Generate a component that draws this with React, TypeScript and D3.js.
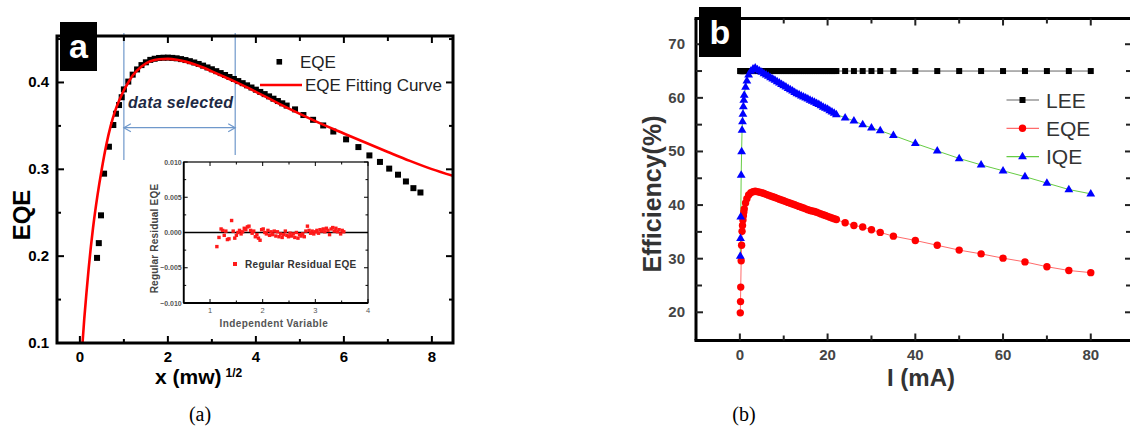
import React from "react";
import * as d3 from "d3";

const FONT = "Arial, 'Liberation Sans', Helvetica, sans-serif";

// ---- panel (a): EQE against square root of power ----
const eqeSqrtP = [
  0.39, 0.43, 0.48, 0.55, 0.66, 0.76, 0.82, 0.89, 0.95,
  1.0, 1.1, 1.2, 1.3, 1.4, 1.5, 1.6, 1.7, 1.8, 1.9, 2.0, 2.1, 2.2, 2.3, 2.4,
  2.5, 2.6, 2.7, 2.8, 2.9, 3.0, 3.1, 3.2, 3.3, 3.4, 3.5, 3.6, 3.7, 3.8, 3.9,
  4.0, 4.1, 4.2, 4.3, 4.4, 4.5, 4.6, 4.7,
  4.89, 5.08, 5.3, 5.53, 5.76, 6.05, 6.33, 6.58, 6.82, 7.03, 7.23, 7.41, 7.58, 7.74,
];
const eqeValue = [
  0.198, 0.215, 0.247, 0.295, 0.326, 0.351, 0.364, 0.374, 0.383,
  0.392, 0.401, 0.409, 0.415, 0.42, 0.4232, 0.426, 0.4273, 0.4282, 0.4285, 0.4286,
  0.4283, 0.4278, 0.4269, 0.4258, 0.4245, 0.423, 0.4213, 0.4194, 0.4173, 0.4152,
  0.413, 0.4108, 0.4086, 0.4063, 0.404, 0.4016, 0.3992, 0.3967, 0.3942, 0.3917,
  0.3891, 0.3866, 0.384, 0.3813, 0.3786, 0.376, 0.3734,
  0.369, 0.3625, 0.357, 0.3505, 0.3435, 0.3345, 0.3256, 0.316, 0.3085, 0.3008,
  0.2938, 0.286, 0.2783, 0.2733,
];
const fitSqrtP = [
  0.06, 0.1, 0.15, 0.2, 0.25, 0.3, 0.4, 0.5, 0.6, 0.7, 0.8, 0.9, 1.0, 1.1, 1.2,
  1.4, 1.6, 1.8, 2.0, 2.2, 2.4, 2.6, 2.8, 3.0, 3.25, 3.5, 3.75, 4.0, 4.25, 4.5,
  5.0, 5.5, 6.0, 6.5, 7.0, 7.5, 8.0, 8.48,
];
const fitValue = [
  0.1, 0.128, 0.158, 0.186, 0.211, 0.233, 0.27, 0.301, 0.328, 0.35, 0.367, 0.38,
  0.391, 0.4, 0.408, 0.4185, 0.4245, 0.4268, 0.4272, 0.4262, 0.424, 0.421, 0.4172,
  0.4128, 0.4072, 0.4015, 0.3955, 0.3892, 0.3828, 0.3762, 0.3638, 0.352, 0.3412,
  0.3305, 0.32, 0.3097, 0.3002, 0.2925,
];
const residual: [number, number][] = [
  [1.13, -0.002], [1.17, -0.0007], [1.21, 0.0005], [1.24, 0.0003], [1.27, -0.0004],
  [1.3, 0.0002], [1.33, -0.001], [1.36, -0.0009], [1.41, 0.0017], [1.44, 0.0002],
  [1.47, -0.0008], [1.5, -0.0004], [1.53, 0.0], [1.56, 0.0003], [1.59, -0.0002],
  [1.62, 0.0001], [1.65, 0.0006], [1.68, 0.0004], [1.71, 0.0008], [1.74, 0.0009],
  [1.77, 0.0003], [1.8, -0.0001], [1.83, 0.0002], [1.86, -0.0006], [1.89, -0.0003],
  [1.92, -0.0008], [1.95, -0.0011], [1.98, 0.0004], [2.01, 0.0005], [2.04, 0.0],
  [2.07, -0.0002], [2.1, 0.0003], [2.13, -0.0004], [2.16, 0.0001], [2.19, -0.0003],
  [2.22, 0.0002], [2.25, -0.0005], [2.28, 0.0001], [2.31, -0.0006], [2.34, -0.0002],
  [2.37, -0.0007], [2.4, -0.0003], [2.43, 0.0002], [2.46, -0.0004], [2.49, -0.0006],
  [2.52, -0.0001], [2.55, -0.0005], [2.58, -0.0002], [2.61, -0.0007], [2.64, 0.0],
  [2.67, -0.0008], [2.7, -0.0003], [2.73, -0.0005], [2.76, -0.0002], [2.79, -0.0006],
  [2.82, 0.0002], [2.85, 0.0009], [2.88, 0.0003], [2.91, -0.0001], [2.94, 0.0002],
  [2.97, -0.0002], [3.0, 0.0001], [3.03, 0.0003], [3.06, -0.0001], [3.09, 0.0004],
  [3.12, 0.0002], [3.15, 0.0005], [3.18, 0.0001], [3.21, 0.0006], [3.24, 0.0003],
  [3.27, -0.0003], [3.3, 0.0005], [3.33, 0.0007], [3.36, 0.0002], [3.39, 0.0006],
  [3.42, 0.0001], [3.45, 0.0004], [3.48, -0.0002], [3.51, 0.0003], [3.54, 0.0001],
];
const aXTickLabels = [0, 2, 4, 6, 8];
const aYTickLabels = [0.1, 0.2, 0.3, 0.4];
const insetXTickLabels = [1, 2, 3, 4];
const insetYTicks = [0.01, 0.005, 0, -0.005, -0.01];
const selectedRange = [1.0, 3.53];

// ---- panel (b): efficiencies against current ----
const currentMA = [
  0.1, 0.15, 0.2, 0.3, 0.4, 0.5, 0.6, 0.7, 0.8, 0.9, 1.0,
  1.3, 1.6, 2.0, 2.5, 3.0, 3.5,
  4, 4.5, 5, 5.5, 6, 6.5, 7, 7.5, 8, 8.5, 9, 9.5, 10, 10.5, 11, 11.5, 12, 12.5,
  13, 13.5, 14, 14.5, 15, 15.5, 16, 16.5, 17, 17.5, 18, 18.5, 19, 19.5, 20, 20.5,
  21, 21.5, 22,
  24, 26, 28, 30, 32, 35, 40, 45, 50, 55, 60, 65, 70, 75, 80,
];
const leePct = [
  65, 65, 65, 65, 65, 65, 65, 65, 65, 65, 65,
  65, 65, 65, 65, 65, 65,
  65, 65, 65, 65, 65, 65, 65, 65, 65, 65, 65, 65, 65, 65, 65, 65, 65, 65,
  65, 65, 65, 65, 65, 65, 65, 65, 65, 65, 65, 65, 65, 65, 65, 65,
  65, 65, 65,
  65, 65, 65, 65, 65, 65, 65, 65, 65, 65, 65, 65, 65, 65, 65,
];
const eqePct = [
  19.9, 22.0, 24.7, 29.6, 32.5, 35.1, 36.2, 37.2, 38.0, 38.7, 39.3,
  40.4, 41.2, 41.9, 42.3, 42.5, 42.6,
  42.5, 42.4, 42.3, 42.15, 42.0, 41.85, 41.7, 41.55, 41.4, 41.25, 41.1, 40.95,
  40.8, 40.65, 40.5, 40.35, 40.2, 40.05, 39.9, 39.75, 39.6, 39.45, 39.3, 39.15,
  39.0, 38.9, 38.8, 38.65, 38.5, 38.35, 38.2, 38.05, 37.9, 37.75, 37.6, 37.45, 37.3,
  36.7, 36.2, 35.9, 35.4, 34.9, 34.2, 33.4, 32.5, 31.6, 30.9, 30.1, 29.4, 28.5,
  27.8, 27.4,
];
const iqePct = [
  30.5, 33.8, 37.8, 45.6, 50.0, 54.0, 55.6, 57.0, 58.4, 59.6, 60.5,
  62.0, 63.2, 64.3, 65.0, 65.4, 65.6,
  65.3, 65.05, 64.8, 64.55, 64.3, 64.05, 63.8, 63.55, 63.3, 63.05, 62.8, 62.55,
  62.3, 62.05, 61.8, 61.55, 61.3, 61.05, 60.8, 60.6, 60.4, 60.2, 60.0, 59.8,
  59.6, 59.4, 59.2, 59.0, 58.8, 58.55, 58.3, 58.1, 57.9, 57.65, 57.4, 57.15, 56.9,
  56.3, 55.7, 55.0, 54.4, 53.9, 53.0, 51.5, 50.1, 48.7, 47.5, 46.4, 45.3, 44.1,
  42.9, 42.1,
];
const bXTickLabels = [0, 20, 40, 60, 80];
const bYTickLabels = [20, 30, 40, 50, 60, 70];
const bLegend = ["LEE", "EQE", "IQE"];

const triangle = "M0,-4.8L4.4,2.7L-4.4,2.7Z";

export default function App() {
  // panel a
  const xA = d3.scaleLinear().domain([-0.52, 8.48]).range([57, 453]);
  const yA = d3.scaleLinear().domain([0.1, 0.4535]).range([343, 36]);
  const xI = d3.scaleLinear().domain([0.5, 4]).range([183.7, 368]);
  const yI = d3.scaleLinear().domain([-0.01, 0.01]).range([303, 162]);
  // panel b
  const xB = d3.scaleLinear().domain([-10, 89.4]).range([696, 1132]);
  const yB = d3.scaleLinear().domain([14.74, 74.8]).range([340.5, 18.5]);

  const [aL, aR] = xA.range();
  const [aB, aT] = yA.range();
  const [bL, bR] = xB.range();
  const [bB, bT] = yB.range();
  const [iL, iR] = xI.range();
  const [iB, iT] = yI.range();

  const fitPath = d3
    .line<number>()
    .x((d, i) => xA(fitSqrtP[i]))
    .y((d) => yA(d))
    .curve(d3.curveMonotoneX)(fitValue);

  const lineB = (vals: number[]) =>
    d3
      .line<number>()
      .x((d, i) => xB(currentMA[i]))
      .y((d) => yB(d))(vals);

  const fmt1 = d3.format(".1f");
  const fmtI = d3.format(".3f");

  const arrowY = 127.7;
  const s0 = xA(selectedRange[0]);
  const s1 = xA(selectedRange[1]);

  return (
    <svg
      width={1130}
      height={430}
      style={{ position: "absolute", left: 0, top: 0, background: "#fff" }}
      fontFamily={FONT}
    >
      {/* ================= panel a ================= */}
      <g>
        {/* data selected annotation */}
        <g stroke="#6f98cb" strokeWidth={1.2} fill="none">
          <line x1={s0} x2={s0} y1={33} y2={160} />
          <line x1={s1} x2={s1} y1={33} y2={155} />
          <line x1={s0} x2={s1} y1={arrowY} y2={arrowY} />
          <path d={`M${s0 + 7},${arrowY - 4}L${s0},${arrowY}L${s0 + 7},${arrowY + 4}`} />
          <path d={`M${s1 - 7},${arrowY - 4}L${s1},${arrowY}L${s1 - 7},${arrowY + 4}`} />
        </g>
        <text
          x={128}
          y={108}
          fontSize={16}
          fontStyle="italic"
          fontWeight="bold"
          fill="#1d2944"
          letterSpacing={0.3}
        >
          data selected
        </text>

        {/* EQE squares */}
        <g fill="#000">
          {eqeSqrtP.map((v, i) => (
            <rect key={i} x={xA(v) - 3} y={yA(eqeValue[i]) - 3} width={6} height={6} />
          ))}
        </g>
        {/* fitting curve */}
        <path d={fitPath || ""} fill="none" stroke="#ff0000" strokeWidth={2.6} />

        {/* frame */}
        <rect x={aL} y={aT} width={aR - aL} height={aB - aT} fill="none" stroke="#000" strokeWidth={3} />
        {d3.range(0, 9).map((v) => (
          <g key={"ax" + v} stroke="#000" strokeWidth={2}>
            <line x1={xA(v)} x2={xA(v)} y1={aB} y2={aB - (v % 2 === 0 ? 7 : 4)} />
            <line x1={xA(v)} x2={xA(v)} y1={aT} y2={aT + (v % 2 === 0 ? 7 : 5)} />
          </g>
        ))}
        {d3.range(0, 8).map((k) => {
          const v = 0.1 + k * 0.05;
          const len = k % 2 === 0 ? 7 : 4;
          return (
            <g key={"ay" + k} stroke="#000" strokeWidth={2}>
              <line x1={aL} x2={aL + len} y1={yA(v)} y2={yA(v)} />
              <line x1={aR} x2={aR - len} y1={yA(v)} y2={yA(v)} />
            </g>
          );
        })}
        {aXTickLabels.map((v) => (
          <text key={"axl" + v} x={xA(v)} y={aB + 19} textAnchor="middle" fontSize={15} fontWeight="bold">
            {v}
          </text>
        ))}
        {aYTickLabels.map((v) => (
          <text key={"ayl" + v} x={49} y={yA(v) + 5} textAnchor="end" fontSize={15} fontWeight="bold">
            {fmt1(v)}
          </text>
        ))}
        <text
          transform="translate(21,215) rotate(-90)"
          textAnchor="middle"
          dominantBaseline="central"
          fontSize={24}
          fontWeight="bold"
        >
          EQE
        </text>
        <text x={155} y={384} fontSize={21} fontWeight="bold">
          x (mw)
          <tspan dx={4} dy={-7} fontSize={12}>
            1/2
          </tspan>
        </text>

        {/* legend */}
        <rect x={276.5} y={59} width={5.6} height={5.6} fill="#000" />
        <text x={300} y={68} fontSize={17} fill="#222">
          EQE
        </text>
        <line x1={260} x2={302} y1={85} y2={85} stroke="#ff0000" strokeWidth={2.6} />
        <text x={305} y={91} fontSize={17} fill="#222">
          EQE Fitting Curve
        </text>

        {/* label box */}
        <rect x={60} y={22} width={37} height={49} fill="#000" />
        <text x={78.5} y={58} textAnchor="middle" fontSize={34} fontWeight="bold" fill="#fff">
          a
        </text>

        {/* inset */}
        <rect x={iL} y={iT} width={iR - iL} height={iB - iT} fill="#fff" stroke="#000" strokeWidth={1.2} />
        <line x1={iL} x2={iL} y1={iT} y2={iB} stroke="#000" strokeWidth={1.8} />
        <line x1={iL} x2={iR} y1={iB} y2={iB} stroke="#000" strokeWidth={1.8} />
        {d3.range(1, 8).map((k) => {
          const v = 0.5 + k * 0.5;
          const len = k % 2 === 1 ? 4 : 2.5;
          return (
            <g key={"ix" + k} stroke="#000" strokeWidth={1}>
              <line x1={xI(v)} x2={xI(v)} y1={iB} y2={iB - len} />
              <line x1={xI(v)} x2={xI(v)} y1={iT} y2={iT + len} />
            </g>
          );
        })}
        {d3.range(0, 9).map((k) => {
          const v = -0.01 + k * 0.0025;
          const len = k % 2 === 0 ? 4 : 2.5;
          return (
            <g key={"iy" + k} stroke="#000" strokeWidth={1}>
              <line x1={iL} x2={iL + len} y1={yI(v)} y2={yI(v)} />
              <line x1={iR} x2={iR - len} y1={yI(v)} y2={yI(v)} />
            </g>
          );
        })}
        <line x1={iL} x2={iR} y1={yI(0)} y2={yI(0)} stroke="#000" strokeWidth={1.6} />
        <g fill="#ff1a1a">
          {residual.map(([x, r], i) => (
            <rect key={i} x={xI(x) - 1.7} y={yI(r) - 1.7} width={3.4} height={3.4} />
          ))}
        </g>
        {insetXTickLabels.map((v) => (
          <text key={"ixl" + v} x={xI(v)} y={iB + 10} textAnchor="middle" fontSize={7.5} fill="#555">
            {v}
          </text>
        ))}
        {insetYTicks.map((v) => (
          <text key={"iyl" + v} x={iL - 2} y={yI(v) + 2.5} textAnchor="end" fontSize={7} fill="#555" fontWeight="bold">
            {fmtI(v)}
          </text>
        ))}
        <text x={(iL + iR) / 2 - 2} y={iB + 24} textAnchor="middle" fontSize={10} fontWeight="bold" fill="#555" letterSpacing={0.4}>
          Independent Variable
        </text>
        <text
          transform={`translate(154,${(iT + iB) / 2 + 6}) rotate(-90)`}
          textAnchor="middle"
          dominantBaseline="central"
          fontSize={10}
          fontWeight="bold"
          fill="#444"
          letterSpacing={0.2}
        >
          Regular Residual EQE
        </text>
        <rect x={233} y={262} width={4} height={4} fill="#ff1a1a" />
        <text x={245} y={267.5} fontSize={10} fontWeight="bold" fill="#333" letterSpacing={0.3}>
          Regular Residual EQE
        </text>

        <text x={200} y={421} textAnchor="middle" fontSize={20} fontFamily="'Liberation Serif', 'DejaVu Serif', serif">
          (a)
        </text>
      </g>

      {/* ================= panel b ================= */}
      <g>
        <path d={lineB(leePct) || ""} fill="none" stroke="#666" strokeWidth={1} />
        <path d={lineB(eqePct) || ""} fill="none" stroke="#ff6b6b" strokeWidth={1} />
        <path d={lineB(iqePct) || ""} fill="none" stroke="#66cc44" strokeWidth={1} />
        <g fill="#000">
          {currentMA.map((c, i) => (
            <rect key={i} x={xB(c) - 3} y={yB(leePct[i]) - 3} width={6} height={6} />
          ))}
        </g>
        <g fill="#ff0000">
          {currentMA.map((c, i) => (
            <circle key={i} cx={xB(c)} cy={yB(eqePct[i])} r={3.7} />
          ))}
        </g>
        <g fill="#0000ff">
          {currentMA.map((c, i) => (
            <path key={i} d={triangle} transform={`translate(${xB(c)},${yB(iqePct[i])})`} />
          ))}
        </g>

        {/* frame */}
        <g stroke="#000" strokeWidth={3}>
          <line x1={bL} x2={bL} y1={bT} y2={bB} />
          <line x1={bL - 1.5} x2={bR} y1={bB} y2={bB} />
          <line x1={bL - 1.5} x2={bR} y1={bT} y2={bT} />
          <line x1={bR} x2={bR} y1={bT} y2={bB} />
        </g>
        {d3.range(0, 9).map((k) => {
          const v = k * 10;
          const len = k % 2 === 0 ? 7 : 5;
          return (
            <g key={"bx" + k} stroke="#222" strokeWidth={2}>
              <line x1={xB(v)} x2={xB(v)} y1={bB} y2={bB - len} />
              <line x1={xB(v)} x2={xB(v)} y1={bT} y2={bT + len} />
            </g>
          );
        })}
        {d3.range(0, 11).map((k) => {
          const v = 20 + k * 5;
          const len = k % 2 === 0 ? 7 : 6;
          return (
            <g key={"by" + k} stroke="#222" strokeWidth={2}>
              <line x1={bL} x2={bL + len} y1={yB(v)} y2={yB(v)} />
              <line x1={bR} x2={bR - len} y1={yB(v)} y2={yB(v)} />
            </g>
          );
        })}
        {bXTickLabels.map((v) => (
          <text key={"bxl" + v} x={xB(v)} y={bB + 19} textAnchor="middle" fontSize={15} fontWeight="bold" fill="#444">
            {v}
          </text>
        ))}
        {bYTickLabels.map((v) => (
          <text key={"byl" + v} x={685} y={yB(v) + 5} textAnchor="end" fontSize={15} fontWeight="bold" fill="#444">
            {v}
          </text>
        ))}
        <text
          transform="translate(652,194) rotate(-90)"
          textAnchor="middle"
          dominantBaseline="central"
          fontSize={25}
          fontWeight="bold"
          fill="#333"
        >
          Efficiency(%)
        </text>
        <text x={921} y={386} textAnchor="middle" fontSize={24} fontWeight="bold" fill="#333">
          I (mA)
        </text>

        {/* legend */}
        {bLegend.map((name, i) => {
          const y = 100 + i * 28.3;
          const col = ["#666", "#ff6b6b", "#66cc44"][i];
          return (
            <g key={name}>
              <line x1={1006.5} x2={1039} y1={y} y2={y} stroke={col} strokeWidth={1.2} />
              {i === 0 && <rect x={1019.5} y={y - 3} width={6} height={6} fill="#000" />}
              {i === 1 && <circle cx={1022.5} cy={y} r={3.7} fill="#ff0000" />}
              {i === 2 && <path d={triangle} transform={`translate(1022.5,${y})`} fill="#0000ff" />}
              <text x={1046} y={y + 7.5} fontSize={21} fill="#333">
                {name}
              </text>
            </g>
          );
        })}

        {/* label box */}
        <rect x={699} y={7} width={42} height={50} fill="#000" />
        <text x={720} y={44} textAnchor="middle" fontSize={34} fontWeight="bold" fill="#fff">
          b
        </text>

        <text x={744} y={421} textAnchor="middle" fontSize={20} fontFamily="'Liberation Serif', 'DejaVu Serif', serif">
          (b)
        </text>
      </g>
    </svg>
  );
}
